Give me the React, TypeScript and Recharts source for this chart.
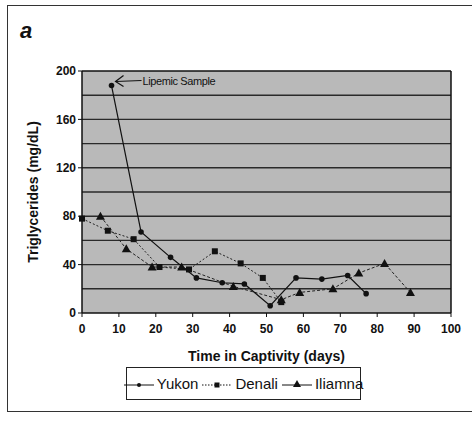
import {
  LineChart,
  Line,
  XAxis,
  YAxis,
  Legend,
  ReferenceLine,
  ReferenceDot,
  CartesianGrid,
  Label,
} from "recharts";

const yukonDays = [8, 16, 24, 31, 38, 44, 51, 58, 65, 72, 77];
const yukonTg = [188, 67, 46, 29, 25, 24, 6, 29, 28, 31, 16];
const denaliDays = [0, 7, 14, 21, 29, 36, 43, 49, 54];
const denaliTg = [78, 68, 61, 38, 36, 51, 41, 29, 9];
const iliamnaDays = [5, 12, 19, 27, 41, 54, 59, 68, 75, 82, 89];
const iliamnaTg = [80, 53, 38, 38, 22, 11, 17, 20, 33, 41, 17];

const xTicks = [0, 10, 20, 30, 40, 50, 60, 70, 80, 90, 100];
const yTicks = [0, 40, 80, 120, 160, 200];
const gridValues = [20, 40, 60, 80, 100, 120, 140, 160, 180];

const seriesNames = ["Yukon", "Denali", "Iliamna"];

const yukon = yukonDays.map((d, i) => ({ day: d, tg: yukonTg[i] }));
const denali = denaliDays.map((d, i) => ({ day: d, tg: denaliTg[i] }));
const iliamna = iliamnaDays.map((d, i) => ({ day: d, tg: iliamnaTg[i] }));

const font = "'Liberation Sans', Arial, sans-serif";

function CircleDot(props: any) {
  const { cx, cy, index } = props;
  return <circle key={"c" + index} cx={cx} cy={cy} r={2.8} fill="#111" />;
}

function SquareDot(props: any) {
  const { cx, cy, index } = props;
  return <rect key={"s" + index} x={cx - 3} y={cy - 3} width={6} height={6} fill="#111" />;
}

function TriangleDot(props: any) {
  const { cx, cy, index } = props;
  return (
    <polygon
      key={"t" + index}
      points={`${cx},${cy - 4.5} ${cx - 4.5},${cy + 3.5} ${cx + 4.5},${cy + 3.5}`}
      fill="#111"
    />
  );
}

function LipemicLabel(props: any) {
  const { viewBox } = props;
  const x = viewBox.x;
  const y = viewBox.y;
  return (
    <g>
      <line x1={x + 4} y1={y - 4} x2={x + 30} y2={y - 5} stroke="#111" strokeWidth={1.2} />
      <polyline
        points={`${x + 12},${y - 10} ${x + 4},${y - 4} ${x + 12},${y + 1}`}
        fill="none"
        stroke="#111"
        strokeWidth={1.2}
      />
      <text x={x + 31} y={y - 1} fontSize={11} fontFamily={font} fill="#111" letterSpacing={-0.4}>
        Lipemic Sample
      </text>
    </g>
  );
}

function LegendBox() {
  const icons = [
    { dash: undefined, dot: "c" },
    { dash: "1.5 1.5", dot: "s" },
    { dash: undefined, dot: "t" },
  ];
  return (
    <div
      style={{
        border: "1.5px solid #222",
        height: 33,
        display: "flex",
        alignItems: "center",
        justifyContent: "center",
        fontFamily: font,
        fontSize: 15,
        color: "#111",
        boxSizing: "border-box",
      }}
    >
      {seriesNames.map((name, i) => (
        <span key={name} style={{ display: "flex", alignItems: "center", marginRight: i < 2 ? 4 : 0 }}>
          <svg width={30} height={12} style={{ marginRight: 3 }}>
            <line x1={0} y1={7} x2={30} y2={7} stroke="#111" strokeWidth={1} strokeDasharray={icons[i].dash} />
            {icons[i].dot === "c" && <circle cx={15} cy={7} r={2} fill="#111" />}
            {icons[i].dot === "s" && <rect x={12.5} y={4.5} width={5} height={5} fill="#111" />}
            {icons[i].dot === "t" && <polygon points="15,2 11,9 19,9" fill="#111" />}
          </svg>
          {name}
        </span>
      ))}
    </div>
  );
}

export default function App() {
  return (
    <div style={{ position: "absolute", left: 0, top: 0, width: 472, height: 421, background: "#fff" }}>
      <div
        style={{
          position: "absolute",
          left: 7,
          top: 5,
          width: 465,
          height: 405,
          borderTop: "1.5px solid #333",
          borderLeft: "1.5px solid #333",
          borderBottom: "1.5px solid #333",
        }}
      />
      <div
        style={{
          position: "absolute",
          left: 20,
          top: 18,
          fontFamily: font,
          fontWeight: "bold",
          fontStyle: "italic",
          fontSize: 22,
          color: "#111",
        }}
      >
        a
      </div>
      <div style={{ position: "absolute", left: 0, top: 0 }}>
        <LineChart width={472} height={421} margin={{ top: 71, right: 21, left: 0, bottom: 60 }}>
          <CartesianGrid fill="#b9b9b9" stroke="none" />
          {gridValues.map((v) => (
            <ReferenceLine key={v} y={v} stroke="#2a2a2a" strokeWidth={1.4} />
          ))}
          <ReferenceLine y={200} stroke="#111" strokeWidth={1.5} />
          <ReferenceLine x={100} stroke="#111" strokeWidth={1.5} />
          <XAxis
            type="number"
            dataKey="day"
            domain={[0, 100]}
            ticks={xTicks}
            interval={0}
            height={48}
            tickSize={4}
            tickMargin={7}
            stroke="#111"
            tick={{ fill: "#111", fontSize: 12, fontFamily: font, fontWeight: "bold" }}
            axisLine={{ stroke: "#111", strokeWidth: 1.5 }}
          >
            <Label
              value="Time in Captivity (days)"
              position="insideBottom"
              offset={0}
              style={{ fontFamily: font, fontSize: 14, fontWeight: "bold", fill: "#111" }}
            />
          </XAxis>
          <YAxis
            type="number"
            domain={[0, 200]}
            ticks={yTicks}
            interval={0}
            width={82}
            tickSize={4}
            stroke="#111"
            tick={{ fill: "#111", fontSize: 12, fontFamily: font, fontWeight: "bold" }}
            axisLine={{ stroke: "#111", strokeWidth: 1.5 }}
          >
            <Label
              value="Triglycerides (mg/dL)"
              angle={-90}
              position="insideLeft"
              offset={33}
              style={{ fontFamily: font, fontSize: 14, fontWeight: "bold", fill: "#111", textAnchor: "middle" }}
            />
          </YAxis>
          <Line
            data={denali}
            dataKey="tg"
            name="Denali"
            stroke="#222"
            strokeWidth={1}
            strokeDasharray="2 2"
            dot={SquareDot}
            isAnimationActive={false}
          />
          <Line
            data={iliamna}
            dataKey="tg"
            name="Iliamna"
            stroke="#222"
            strokeWidth={1}
            strokeDasharray="3 2"
            dot={TriangleDot}
            isAnimationActive={false}
          />
          <Line
            data={yukon}
            dataKey="tg"
            name="Yukon"
            stroke="#111"
            strokeWidth={1.2}
            dot={CircleDot}
            isAnimationActive={false}
          />
          <ReferenceDot x={yukonDays[0]} y={yukonTg[0]} r={0} stroke="none" label={<LipemicLabel />} />
          <Legend
            layout="horizontal"
            verticalAlign="middle"
            align="center"
            wrapperStyle={{ left: 126, top: 367, width: 235 }}
            content={() => <LegendBox />}
          />
        </LineChart>
      </div>
    </div>
  );
}
